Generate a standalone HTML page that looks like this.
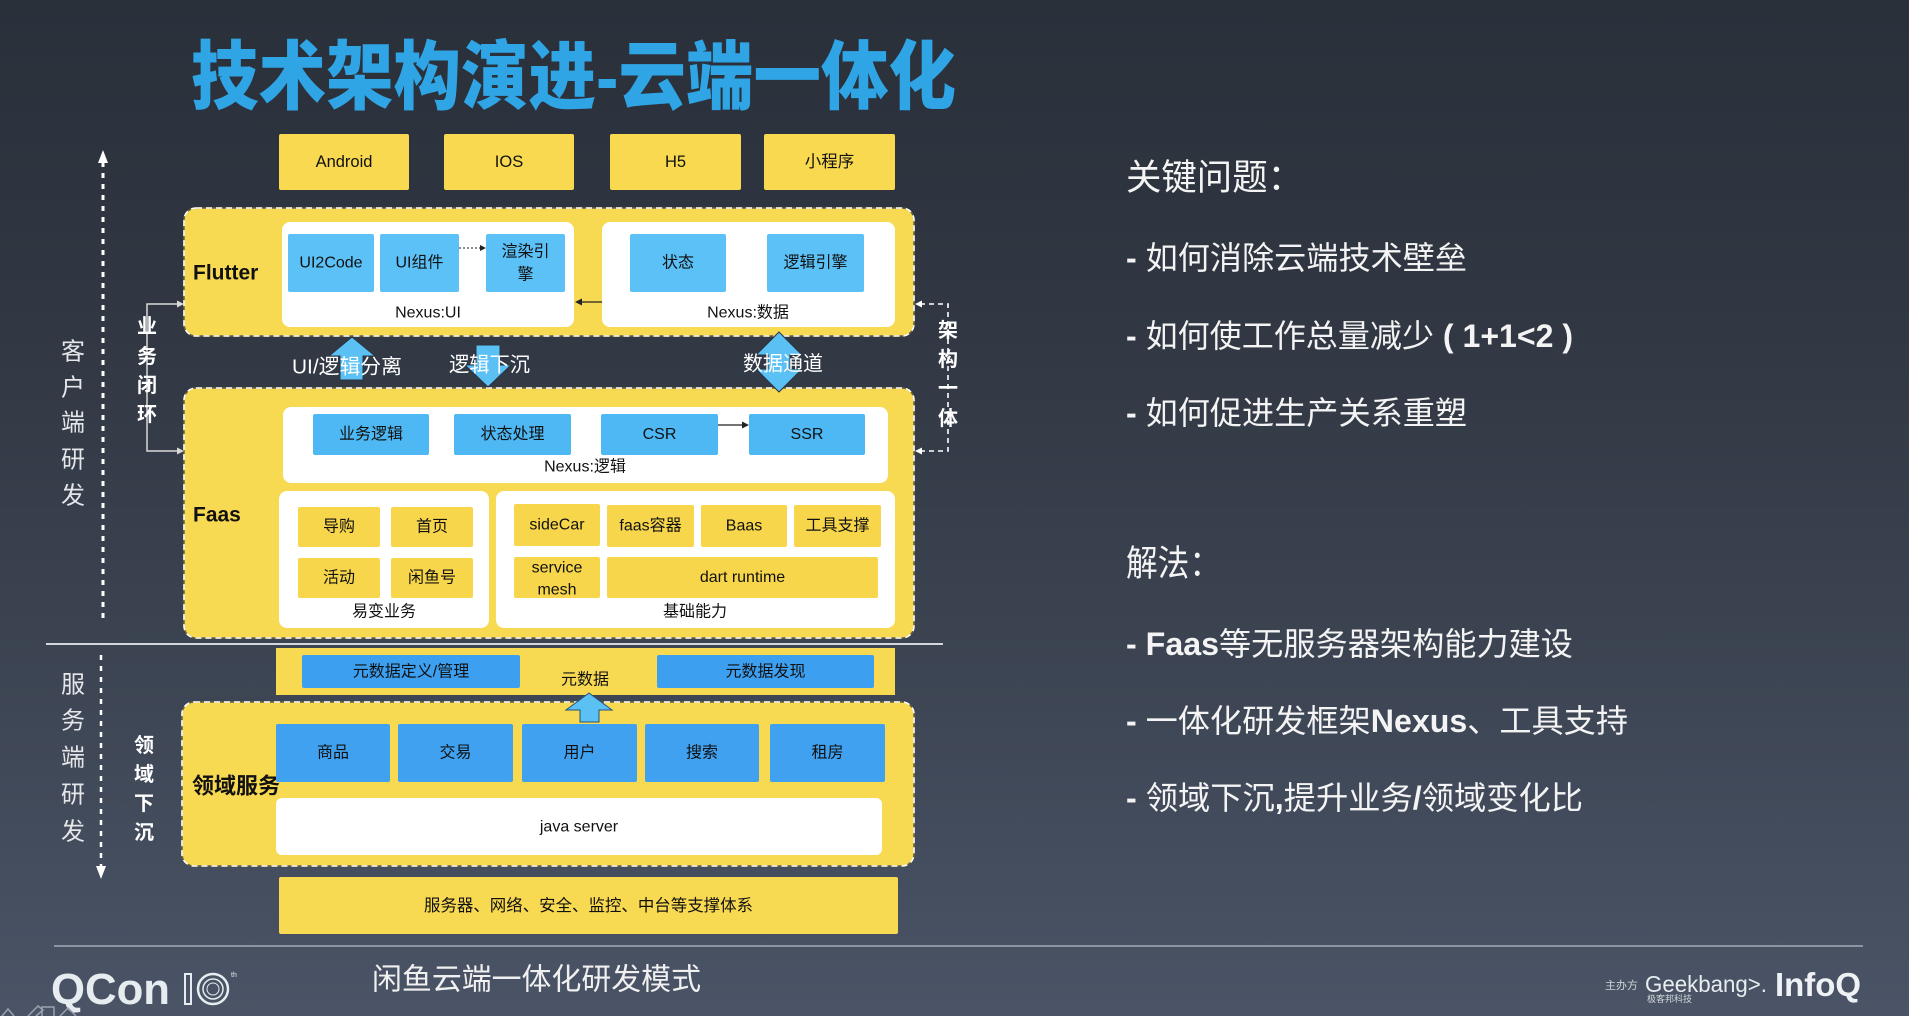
<!DOCTYPE html>
<html><head><meta charset="utf-8">
<style>
html,body{margin:0;padding:0;width:1909px;height:1016px;overflow:hidden;}
body{background:linear-gradient(180deg,#2a303a 0%,#303742 30%,#3b4351 62%,#4a5466 100%);}
svg{position:absolute;left:0;top:0;}
text{font-family:"Liberation Sans","Noto Sans CJK SC",sans-serif;}
</style></head><body>
<svg width="1909" height="1016" viewBox="0 0 1909 1016">

<!-- Title -->
<g transform="translate(191,78) scale(1,1.12)">
<text x="0" y="0" dominant-baseline="central" textLength="765" lengthAdjust="spacingAndGlyphs" font-size="67" font-weight="900" fill="#2fa5e6">技术架构演进-云端一体化</text>
</g>

<!-- Platform boxes -->
<g fill="#f8d94f">
<rect x="279" y="134" width="130" height="56" rx="2"/>
<rect x="444" y="134" width="130" height="56" rx="2"/>
<rect x="610" y="134" width="131" height="56" rx="2"/>
<rect x="764" y="134" width="131" height="56" rx="2"/>
</g>
<g font-size="16.5" fill="#111" text-anchor="middle" dominant-baseline="central">
<text x="344" y="162">Android</text>
<text x="509" y="162">IOS</text>
<text x="675.5" y="162">H5</text>
<text x="829.5" y="162">小程序</text>
</g>

<!-- Containers -->
<g fill="#f8d952" stroke="#6a6234" stroke-width="1.5">
<rect x="184" y="208" width="730" height="128" rx="12"/>
<rect x="184" y="388" width="730" height="250" rx="12"/>
<rect x="182" y="702" width="732" height="164" rx="12"/>
</g>
<g fill="none" stroke="#ffffff" stroke-width="1.6" stroke-dasharray="6 4">
<rect x="184" y="208" width="730" height="128" rx="12"/>
<rect x="184" y="388" width="730" height="250" rx="12"/>
<rect x="182" y="702" width="732" height="164" rx="12"/>
</g>

<!-- Flutter -->
<text x="193" y="273" font-size="21" font-weight="bold" fill="#111" dominant-baseline="central">Flutter</text>
<rect x="282" y="222" width="292" height="105" rx="8" fill="#fff"/>
<rect x="602" y="222" width="293" height="105" rx="8" fill="#fff"/>
<g fill="#5bc1f7">
<rect x="288" y="234" width="86" height="58" rx="2"/>
<rect x="380" y="234" width="79" height="58" rx="2"/>
<rect x="486" y="234" width="79" height="58" rx="2"/>
<rect x="630" y="234" width="96" height="58" rx="2"/>
<rect x="767" y="234" width="97" height="58" rx="2"/>
</g>
<g font-size="16" fill="#111" text-anchor="middle" dominant-baseline="central">
<text x="331" y="263">UI2Code</text>
<text x="419.5" y="263">UI组件</text>
<text x="525.5" y="252">渲染引</text>
<text x="525.5" y="275">擎</text>
<text x="678" y="263">状态</text>
<text x="815.5" y="263">逻辑引擎</text>
<text x="428" y="313">Nexus:UI</text>
<text x="748" y="313">Nexus:数据</text>
</g>
<line x1="459" y1="248" x2="481" y2="248" stroke="#222" stroke-width="1" stroke-dasharray="2 2"/>
<polygon points="486,248 480,245 480,251" fill="#222"/>
<line x1="602" y1="302" x2="581" y2="302" stroke="#222" stroke-width="1.2"/>
<polygon points="575,302 582,298.5 582,305.5" fill="#222"/>

<!-- Faas -->
<text x="193" y="515" font-size="21" font-weight="bold" fill="#111" dominant-baseline="central">Faas</text>
<rect x="283" y="407" width="605" height="76" rx="8" fill="#fff"/>
<g fill="#4db8f3">
<rect x="313" y="414" width="116" height="41" rx="2"/>
<rect x="454" y="414" width="117" height="41" rx="2"/>
<rect x="601" y="414" width="117" height="41" rx="2"/>
<rect x="749" y="414" width="116" height="41" rx="2"/>
</g>
<line x1="718" y1="425" x2="743" y2="425" stroke="#222" stroke-width="1.2"/>
<polygon points="749,425 742,421.5 742,428.5" fill="#222"/>
<rect x="279" y="491" width="210" height="137" rx="8" fill="#fff"/>
<rect x="496" y="491" width="399" height="137" rx="8" fill="#fff"/>
<g fill="#f7d64c">
<rect x="298" y="507" width="82" height="40" rx="2"/>
<rect x="391" y="507" width="82" height="40" rx="2"/>
<rect x="298" y="558" width="82" height="40" rx="2"/>
<rect x="391" y="558" width="82" height="40" rx="2"/>
<rect x="514" y="504" width="86" height="42" rx="2"/>
<rect x="607" y="505" width="87" height="42" rx="2"/>
<rect x="701" y="505" width="86" height="42" rx="2"/>
<rect x="794" y="505" width="87" height="42" rx="2"/>
<rect x="514" y="557" width="86" height="41" rx="2"/>
<rect x="607" y="557" width="271" height="41" rx="2"/>
</g>
<g font-size="16" fill="#111" text-anchor="middle" dominant-baseline="central">
<text x="371" y="434.5">业务逻辑</text>
<text x="512.5" y="434.5">状态处理</text>
<text x="659.5" y="434.5">CSR</text>
<text x="807" y="434.5">SSR</text>
<text x="585" y="467">Nexus:逻辑</text>
<text x="339" y="527">导购</text>
<text x="432" y="527">首页</text>
<text x="339" y="578">活动</text>
<text x="432" y="578">闲鱼号</text>
<text x="384" y="612">易变业务</text>
<text x="557" y="525">sideCar</text>
<text x="650.5" y="526">faas容器</text>
<text x="744" y="526">Baas</text>
<text x="837.5" y="526">工具支撑</text>
<text x="557" y="568">service</text>
<text x="557" y="590">mesh</text>
<text x="742.5" y="577.5">dart runtime</text>
<text x="695" y="612">基础能力</text>
</g>

<!-- middle arrows -->
<g fill="#5bc1f5" stroke="#2a3340" stroke-width="1">
<polygon points="352,337 375,356 363,356 363,380 340,380 340,356 329,356"/>
<polygon points="476,345 500,345 500,365 511,365 488,387 465,365 476,365"/>
<polygon points="779,332 802,355 790,355 790,369 802,369 779,392 756,369 768,369 768,355 756,355"/>
</g>
<g font-size="20.5" fill="#fff" dominant-baseline="central">
<text x="292" y="367" textLength="110" lengthAdjust="spacingAndGlyphs">UI/逻辑分离</text>
<text x="449" y="365" textLength="81" lengthAdjust="spacingAndGlyphs">逻辑下沉</text>
<text x="743" y="364" textLength="80" lengthAdjust="spacingAndGlyphs">数据通道</text>
</g>

<!-- separator -->
<line x1="46" y1="644" x2="943" y2="644" stroke="#d3d7dd" stroke-width="2"/>

<!-- metadata -->
<rect x="276" y="648" width="619" height="47" fill="#f8d952"/>
<rect x="302" y="655" width="218" height="33" rx="2" fill="#3d9ff0"/>
<rect x="657" y="655" width="217" height="33" rx="2" fill="#3d9ff0"/>
<g font-size="16" fill="#111" text-anchor="middle" dominant-baseline="central">
<text x="411" y="672">元数据定义/管理</text>
<text x="765.5" y="672">元数据发现</text>
<text x="585" y="680">元数据</text>
</g>

<!-- domain -->
<text x="192" y="786" font-size="22" font-weight="bold" fill="#111" dominant-baseline="central">领域服务</text>
<g fill="#3fa1f0">
<rect x="276" y="724" width="114" height="58" rx="2"/>
<rect x="398" y="724" width="115" height="58" rx="2"/>
<rect x="522" y="724" width="115" height="58" rx="2"/>
<rect x="645" y="724" width="114" height="58" rx="2"/>
<rect x="770" y="724" width="115" height="58" rx="2"/>
</g>
<rect x="276" y="798" width="606" height="57" rx="6" fill="#fff"/>
<polygon points="589,693 612,710 599,710 599,722 580,722 580,710 566,710" fill="#5bc1f5" stroke="#24507a" stroke-width="1"/>
<g font-size="16" fill="#111" text-anchor="middle" dominant-baseline="central">
<text x="333" y="753">商品</text>
<text x="455.5" y="753">交易</text>
<text x="579.5" y="753">用户</text>
<text x="702" y="753">搜索</text>
<text x="827.5" y="753">租房</text>
<text x="579" y="827">java server</text>
</g>

<!-- support -->
<rect x="279" y="877" width="619" height="57" rx="2" fill="#f8d952"/>
<text x="588.5" y="906" font-size="16.5" fill="#111" text-anchor="middle" dominant-baseline="central" textLength="329" lengthAdjust="spacingAndGlyphs">服务器、网络、安全、监控、中台等支撑体系</text>

<!-- left annotations -->
<line x1="103" y1="162" x2="103" y2="621" stroke="#fff" stroke-width="3" stroke-dasharray="5 6"/>
<polygon points="103,150 98,163 108,163" fill="#fff"/>
<line x1="101" y1="655" x2="101" y2="866" stroke="#fff" stroke-width="2.5" stroke-dasharray="5 6"/>
<polygon points="101,879 96,866 106,866" fill="#fff"/>
<g font-size="24" fill="#e4e6e9" text-anchor="middle" dominant-baseline="central">
<text x="73" y="352">客</text>
<text x="73" y="388">户</text>
<text x="73" y="423">端</text>
<text x="73" y="460">研</text>
<text x="73" y="496">发</text>
<text x="73" y="685">服</text>
<text x="73" y="721">务</text>
<text x="73" y="758">端</text>
<text x="73" y="795">研</text>
<text x="73" y="832">发</text>
</g>
<polyline points="180,304 147,304 147,451 180,451" fill="none" stroke="#d8d8d8" stroke-width="1.5"/>
<polygon points="184,304 177,300.5 177,307.5" fill="#d8d8d8"/>
<polygon points="184,451 177,447.5 177,454.5" fill="#d8d8d8"/>
<polyline points="920,304 948,304 948,451 920,451" fill="none" stroke="#fff" stroke-width="1.6" stroke-dasharray="5 4"/>
<polygon points="915,304 922,300.5 922,307.5" fill="#fff"/>
<polygon points="915,451 922,447.5 922,454.5" fill="#fff"/>
<g font-size="20" font-weight="bold" fill="#fff" text-anchor="middle" dominant-baseline="central">
<text x="147" y="327">业</text>
<text x="147" y="357">务</text>
<text x="147" y="386">闭</text>
<text x="147" y="415">环</text>
<text x="144" y="746">领</text>
<text x="144" y="775">域</text>
<text x="144" y="804">下</text>
<text x="144" y="833">沉</text>
<text x="948" y="331">架</text>
<text x="948" y="360">构</text>
<text x="948" y="389">一</text>
<text x="948" y="419">体</text>
</g>

<!-- right side text -->
<g fill="#f4f4f4" dominant-baseline="central">
<text x="1126" y="177" font-size="36" textLength="177" lengthAdjust="spacingAndGlyphs">关键问题：</text>
<text x="1126" y="258" font-size="32" textLength="341" lengthAdjust="spacingAndGlyphs"><tspan font-weight="bold">- </tspan>如何消除云端技术壁垒</text>
<text x="1126" y="336" font-size="32" textLength="447" lengthAdjust="spacingAndGlyphs"><tspan font-weight="bold">- </tspan>如何使工作总量减少<tspan font-weight="bold"> ( 1+1&lt;2 )</tspan></text>
<text x="1126" y="413" font-size="32" textLength="341" lengthAdjust="spacingAndGlyphs"><tspan font-weight="bold">- </tspan>如何促进生产关系重塑</text>
<text x="1126" y="563" font-size="36" textLength="95" lengthAdjust="spacingAndGlyphs">解法：</text>
<text x="1126" y="644" font-size="32" textLength="447" lengthAdjust="spacingAndGlyphs"><tspan font-weight="bold">- Faas</tspan>等无服务器架构能力建设</text>
<text x="1126" y="721" font-size="32" textLength="502" lengthAdjust="spacingAndGlyphs"><tspan font-weight="bold">- </tspan>一体化研发框架<tspan font-weight="bold">Nexus</tspan>、工具支持</text>
<text x="1126" y="798" font-size="32" textLength="457" lengthAdjust="spacingAndGlyphs"><tspan font-weight="bold">- </tspan>领域下沉<tspan font-weight="bold">,</tspan>提升业务<tspan font-weight="bold">/</tspan>领域变化比</text>
</g>

<!-- footer -->
<line x1="54" y1="946" x2="1863" y2="946" stroke="#8c95a2" stroke-width="2"/>
<text x="51" y="1004" font-size="44" font-weight="bold" fill="#e6ecef" textLength="119" lengthAdjust="spacingAndGlyphs">QCon</text>
<rect x="185" y="974" width="6" height="30" fill="none" stroke="#e6ecef" stroke-width="2"/>
<circle cx="213" cy="989" r="15" fill="none" stroke="#e6ecef" stroke-width="2.5"/>
<circle cx="213" cy="989" r="10" fill="none" stroke="#e6ecef" stroke-width="1.5"/>
<circle cx="213" cy="989" r="6" fill="none" stroke="#e6ecef" stroke-width="1"/>
<text x="231" y="977" font-size="7" fill="#e6ecef">th</text>
<text x="372" y="980" font-size="30" fill="#f0f0f0" dominant-baseline="central" textLength="329" lengthAdjust="spacingAndGlyphs">闲鱼云端一体化研发模式</text>
<g fill="none" stroke="#9aa3ad" stroke-width="1.5">
<path d="M2,1016 L8,1009 L14,1016"/>
<path d="M28,1016 L38,1006 L43,1010 L36,1016"/>
<rect x="42" y="1007" width="12" height="12"/>
<path d="M60,1016 L68,1008 L76,1016"/>
</g>
<text x="1605" y="986" font-size="11" fill="#d0d4d8" dominant-baseline="central">主办方</text>
<text x="1645" y="992" font-size="23" fill="#e8edf0" textLength="122" lengthAdjust="spacingAndGlyphs">Geekbang&gt;.</text>
<text x="1647" y="1002" font-size="9" fill="#d6dadd" textLength="45" lengthAdjust="spacingAndGlyphs">极客邦科技</text>
<text x="1775" y="996" font-size="33" font-weight="bold" fill="#eef2f5" textLength="86" lengthAdjust="spacingAndGlyphs">InfoQ</text>
</svg>
</body></html>
